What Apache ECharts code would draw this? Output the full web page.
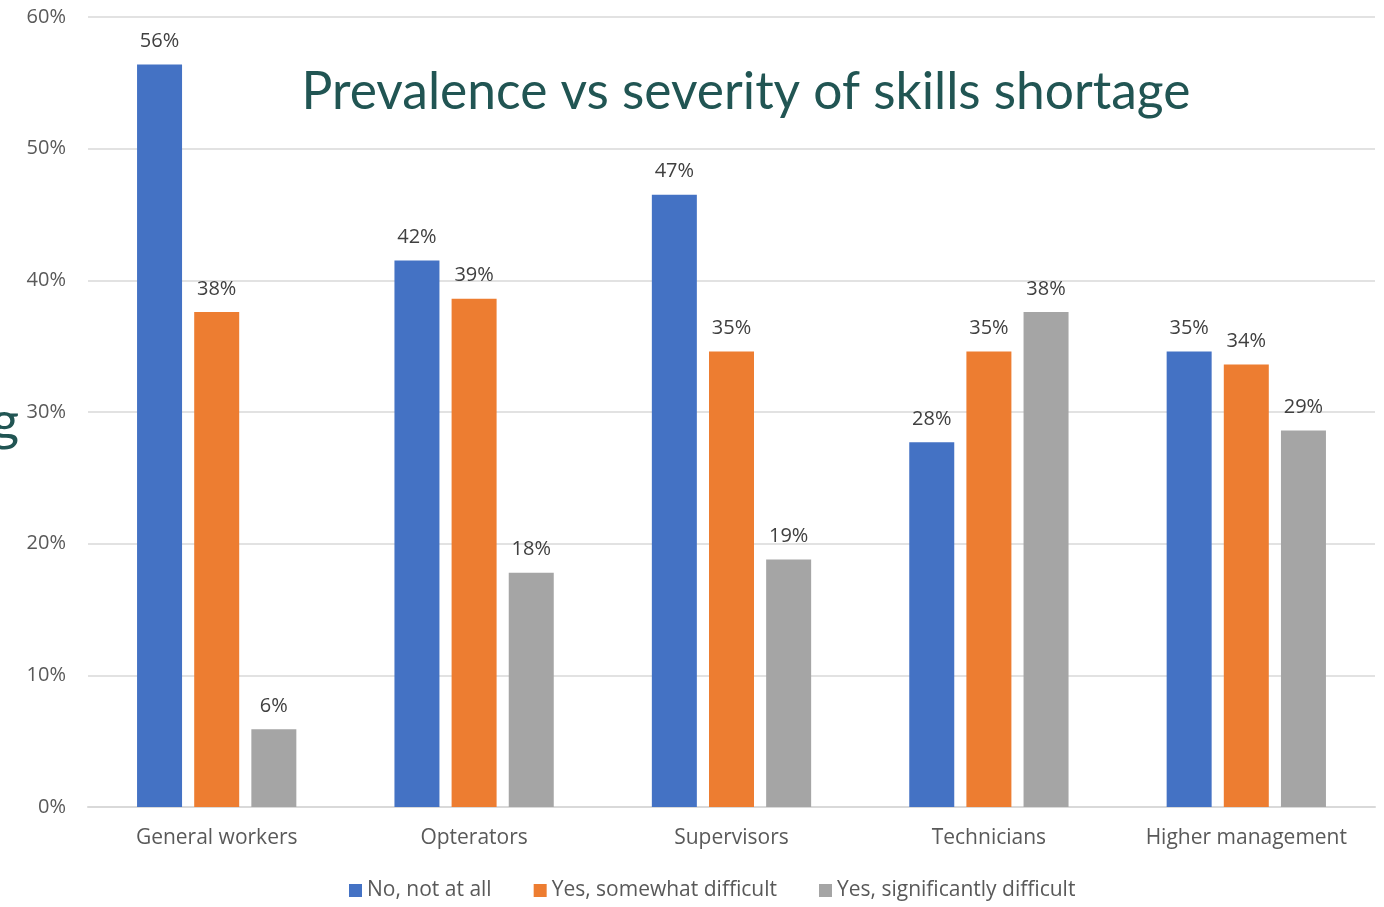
<!DOCTYPE html>
<html>
<head>
<meta charset="utf-8">
<script src="https://cdn.jsdelivr.net/npm/echarts@6/dist/echarts.min.js"></script>
<style>
  html, body { margin: 0; padding: 0; background: #ffffff; }
  #chart { width: 1384px; height: 907px; }
</style>
</head>
<body>
<div id="chart"></div>
<script>
// Job categories along the x axis
const categories = ['General workers', 'Opterators', 'Supervisors', 'Technicians', 'Higher management'];

// Share of respondents per answer (percent)
const noNotAtAll = [56.4, 41.5, 46.5, 27.7, 34.6];
const yesSomewhat = [37.6, 38.6, 34.6, 34.6, 33.6];
const yesSignificantly = [5.9, 17.8, 18.8, 37.6, 28.6];

const seriesNames = ['No, not at all', 'Yes, somewhat difficult', 'Yes, significantly difficult'];
const yTicks = { min: 0, max: 60, step: 10 };

const colors = ['#4472c4', '#ed7d31', '#a5a5a5'];
const font = '"Open Sans", "Noto Sans", sans-serif';
const titleFont = '"Lato", "Noto Sans", sans-serif';

const chart = echarts.init(document.getElementById('chart'), null, { renderer: 'canvas' });

function barSeries(name, data, color) {
  return {
    name: name,
    type: 'bar',
    data: data,
    barWidth: 45,
    barGap: '27%',
    itemStyle: { color: color },
    label: {
      show: true,
      position: 'top',
      distance: 13,
      color: '#404040',
      fontFamily: font,
      fontSize: 20,
      formatter: p => Math.round(p.value) + '%'
    }
  };
}

chart.setOption({
  backgroundColor: '#ffffff',
  animation: false,
  color: colors,
  title: {
    text: 'Prevalence vs severity of skills shortage',
    left: 741,
    top: 61,
    textAlign: 'center',
    textStyle: {
      color: '#215553',
      fontFamily: titleFont,
      fontWeight: 'normal',
      fontSize: 51.5
    }
  },
  graphic: [{
    type: 'text',
    left: -9,
    top: 396,
    style: {
      text: 'g',
      fill: '#215553',
      font: '54px ' + titleFont
    }
  }],
  legend: {
    data: seriesNames,
    bottom: 1,
    left: 344,
    icon: 'rect',
    itemWidth: 13,
    itemHeight: 13,
    itemGap: 42,
    textStyle: { color: '#595959', fontFamily: font, fontSize: 21 }
  },
  grid: { left: 88, right: 9, top: 17, bottom: 100, containLabel: false },
  xAxis: {
    type: 'category',
    data: categories,
    axisLine: { lineStyle: { color: '#d9d9d9', width: 2 } },
    axisTick: { show: false },
    axisLabel: {
      interval: 0,
      color: '#595959',
      fontFamily: font,
      fontSize: 21,
      margin: 21
    }
  },
  yAxis: {
    type: 'value',
    min: yTicks.min,
    max: yTicks.max,
    interval: yTicks.step,
    axisLine: { show: false },
    axisTick: { show: false },
    splitLine: { lineStyle: { color: '#d9d9d9', width: 1.5 } },
    axisLabel: {
      color: '#595959',
      fontFamily: font,
      fontSize: 20,
      margin: 22,
      formatter: v => v + '%'
    }
  },
  series: [
    barSeries(seriesNames[0], noNotAtAll, colors[0]),
    barSeries(seriesNames[1], yesSomewhat, colors[1]),
    barSeries(seriesNames[2], yesSignificantly, colors[2])
  ]
});
</script>
</body>
</html>
